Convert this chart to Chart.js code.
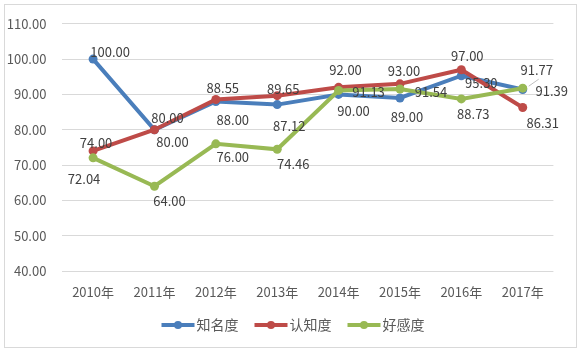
<!DOCTYPE html>
<html><head><meta charset="utf-8">
<script src="https://cdn.jsdelivr.net/npm/chart.js@4/dist/chart.umd.min.js"></script>
<style>html,body{margin:0;padding:0;background:#fff}#wrap{position:relative;width:584px;height:355px}
#frame{position:absolute;left:4px;top:4px;width:573px;height:344px;border:1px solid #d9d9d9;box-sizing:border-box;pointer-events:none}</style>
</head><body><div id="wrap"><canvas id="c" width="584" height="355"></canvas><div id="frame"></div></div>
<script>
const categories = ['2010年','2011年','2012年','2013年','2014年','2015年','2016年','2017年'];
const seriesNames = ['知名度','认知度','好感度'];
const awareness = [100.00, 80.00, 88.00, 87.12, 90.00, 89.00, 95.30, 91.39];
const recognition = [74.00, 80.00, 88.55, 89.65, 92.00, 93.00, 97.00, 86.31];
const favorability = [72.04, 64.00, 76.00, 74.46, 91.13, 91.54, 88.73, 91.77];
const yTicks = [40, 50, 60, 70, 80, 90, 100, 110];

const colors = ['#4a7ebb', '#be4b48', '#98b954'];
// label placement (styling only): [dx, dy] of label centre relative to the point
const labelOffsets = [
  [[17,-7],[18,12],[17,19],[12,21],[15,17],[7,19],[20,7],[29,2]],
  [[3,-8],[13,-12],[7,-11],[6,-7],[7,-17],[4,-13],[6,-14],[20,16]],
  [[-9,21],[15,15],[17,13],[16,15],[30,2],[31,3],[12,15],[14,-18]]
];
const leaderLines = [[],[],[7]];
const FONT = '"Noto Sans CJK SC", "Noto Sans", sans-serif';

const labelPlugin = {
  id: 'valueLabels',
  afterDatasetsDraw(chart) {
    const ctx = chart.ctx;
    ctx.save();
    ctx.font = '13px ' + FONT;
    ctx.fillStyle = '#404040';
    ctx.textAlign = 'center';
    ctx.textBaseline = 'middle';
    chart.data.datasets.forEach((ds, i) => {
      const meta = chart.getDatasetMeta(i);
      meta.data.forEach((pt, j) => {
        const off = labelOffsets[i][j];
        const x = pt.x + off[0], y = pt.y + off[1];
        if (leaderLines[i].includes(j)) {
          ctx.save();
          ctx.strokeStyle = '#bfbfbf';
          ctx.lineWidth = 1;
          ctx.beginPath();
          ctx.moveTo(pt.x + 6, pt.y - 2);
          ctx.lineTo(pt.x + 16, pt.y - 9);
          ctx.stroke();
          ctx.restore();
        }
        ctx.fillText(ds.data[j].toFixed(2), x, y);
      });
    });
    ctx.restore();
  }
};

const legendPlugin = {
  id: 'customLegend',
  afterDraw(chart) {
    const ctx = chart.ctx;
    ctx.save();
    ctx.font = '14px ' + FONT;
    ctx.textBaseline = 'middle';
    const y = 325;
    const lineW = 33, gap = 2, itemGap = 16;
    let total = 0;
    const widths = chart.data.datasets.map(ds => ctx.measureText(ds.label).width);
    widths.forEach(w => total += lineW + gap + w);
    total += itemGap * (widths.length - 1);
    let x = 293 - total / 2;
    chart.data.datasets.forEach((ds, i) => {
      ctx.strokeStyle = ds.borderColor;
      ctx.lineWidth = 4;
      ctx.beginPath();
      ctx.moveTo(x, y); ctx.lineTo(x + lineW, y); ctx.stroke();
      ctx.fillStyle = ds.borderColor;
      ctx.beginPath(); ctx.arc(x + lineW / 2, y, 4, 0, Math.PI * 2); ctx.fill();
      ctx.fillStyle = '#595959';
      ctx.textAlign = 'left';
      ctx.fillText(ds.label, x + lineW + gap, y);
      x += lineW + gap + widths[i] + itemGap;
    });
    ctx.restore();
  }
};

const seriesData = [awareness, recognition, favorability];
new Chart(document.getElementById('c'), {
  type: 'line',
  data: {
    labels: categories,
    datasets: seriesData.map((d, i) => ({
      label: seriesNames[i],
      data: d,
      borderColor: colors[i],
      backgroundColor: colors[i],
      borderWidth: 4,
      pointRadius: 4.5,
      pointBorderWidth: 0,
      pointBackgroundColor: colors[i],
      tension: 0,
      order: 2 - i
    }))
  },
  options: {
    responsive: false,
    animation: false,
    events: [],
    layout: { padding: { left: 0, right: 30.6, top: 19, bottom: 0 } },
    plugins: { legend: { display: false }, tooltip: { enabled: false } },
    scales: {
      x: {
        offset: true,
        grid: { display: false, drawTicks: false },
        border: { display: false },
        ticks: { color: '#595959', font: { family: FONT, size: 13 }, padding: 13, maxRotation: 0 },
        afterFit(s) { s.height = 84; }
      },
      y: {
        min: 40, max: 110,
        afterBuildTicks(s) { s.ticks = yTicks.map(v => ({ value: v })); },
        grid: { color: '#d9d9d9', lineWidth: 1, drawTicks: false },
        border: { display: false },
        ticks: { color: '#595959', font: { family: FONT, size: 13 }, padding: 16, callback: v => Number(v).toFixed(2) },
        afterFit(s) { s.width = 62.4; }
      }
    }
  },
  plugins: [labelPlugin, legendPlugin]
});
</script>
</body></html>
